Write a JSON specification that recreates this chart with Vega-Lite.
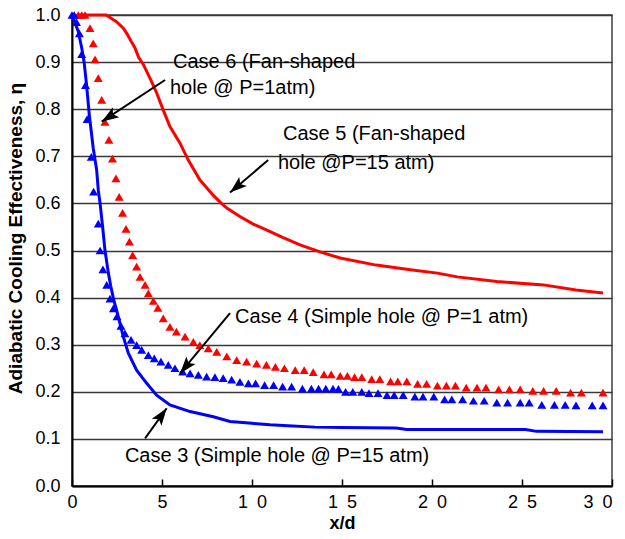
{
  "$schema": "https://vega.github.io/schema/vega-lite/v6.json",
  "width": 540,
  "height": 471,
  "autosize": {"type": "none"},
  "padding": {"left": 72, "top": 15, "right": 13, "bottom": 53},
  "background": "white",
  "config": {
    "font": "Liberation Sans",
    "view": {"stroke": "#404040", "strokeWidth": 1.5},
    "axis": {"labelFont": "Liberation Sans", "titleFont": "Liberation Sans", "labelColor": "black", "titleColor": "black"}
  },
  "datasets": {
    "case5": [
      {"x": 0.35, "y": 1.0}, {"x": 1.0, "y": 1.0}, {"x": 1.9, "y": 1.0}, {"x": 2.3, "y": 0.99},
      {"x": 2.5, "y": 0.985}, {"x": 2.85, "y": 0.972}, {"x": 3.04, "y": 0.961}, {"x": 3.3, "y": 0.943},
      {"x": 3.5, "y": 0.93}, {"x": 3.7, "y": 0.91}, {"x": 3.96, "y": 0.895}, {"x": 4.33, "y": 0.866},
      {"x": 4.7, "y": 0.835}, {"x": 5.07, "y": 0.798}, {"x": 5.44, "y": 0.763}, {"x": 6.0, "y": 0.728},
      {"x": 6.46, "y": 0.692}, {"x": 7.1, "y": 0.65}, {"x": 7.85, "y": 0.617}, {"x": 8.3, "y": 0.6},
      {"x": 8.6, "y": 0.59}, {"x": 9.33, "y": 0.572}, {"x": 10.07, "y": 0.556}, {"x": 10.8, "y": 0.544},
      {"x": 11.7, "y": 0.528}, {"x": 12.67, "y": 0.512}, {"x": 13.78, "y": 0.497}, {"x": 14.9, "y": 0.484},
      {"x": 16.9, "y": 0.469}, {"x": 18.8, "y": 0.459}, {"x": 20.3, "y": 0.452}, {"x": 21.4, "y": 0.444},
      {"x": 23.6, "y": 0.434}, {"x": 26.2, "y": 0.427}, {"x": 28.0, "y": 0.416}, {"x": 29.5, "y": 0.41}
    ],
    "case3": [
      {"x": 0.0, "y": 1.0}, {"x": 0.35, "y": 0.965}, {"x": 0.54, "y": 0.93}, {"x": 0.67, "y": 0.901},
      {"x": 0.81, "y": 0.851}, {"x": 0.96, "y": 0.788}, {"x": 1.18, "y": 0.717}, {"x": 1.37, "y": 0.671},
      {"x": 1.46, "y": 0.628}, {"x": 1.56, "y": 0.6}, {"x": 1.7, "y": 0.551}, {"x": 1.83, "y": 0.501},
      {"x": 2.02, "y": 0.452}, {"x": 2.15, "y": 0.425}, {"x": 2.3, "y": 0.398}, {"x": 2.5, "y": 0.37},
      {"x": 2.85, "y": 0.317}, {"x": 3.13, "y": 0.282}, {"x": 3.59, "y": 0.246}, {"x": 4.15, "y": 0.218},
      {"x": 4.7, "y": 0.193}, {"x": 5.44, "y": 0.172}, {"x": 6.56, "y": 0.158}, {"x": 7.85, "y": 0.147},
      {"x": 8.78, "y": 0.137}, {"x": 10.0, "y": 0.133}, {"x": 11.0, "y": 0.13}, {"x": 12.0, "y": 0.128},
      {"x": 13.5, "y": 0.125}, {"x": 15.0, "y": 0.124}, {"x": 18.0, "y": 0.123}, {"x": 18.6, "y": 0.12},
      {"x": 25.2, "y": 0.12}, {"x": 25.8, "y": 0.116}, {"x": 29.5, "y": 0.115}
    ],
    "case6": [
      {"x": 0.35, "y": 1.0}, {"x": 0.54, "y": 1.0}, {"x": 0.72, "y": 1.0}, {"x": 1.0, "y": 0.972},
      {"x": 1.18, "y": 0.94}, {"x": 1.28, "y": 0.906}, {"x": 1.46, "y": 0.866}, {"x": 1.65, "y": 0.82},
      {"x": 1.83, "y": 0.773}, {"x": 2.05, "y": 0.735}, {"x": 2.25, "y": 0.695}, {"x": 2.44, "y": 0.653},
      {"x": 2.62, "y": 0.614}, {"x": 2.81, "y": 0.58}, {"x": 3.0, "y": 0.546}, {"x": 3.19, "y": 0.519},
      {"x": 3.37, "y": 0.49}, {"x": 3.59, "y": 0.466}, {"x": 3.78, "y": 0.444}, {"x": 4.06, "y": 0.427},
      {"x": 4.24, "y": 0.409}, {"x": 4.52, "y": 0.393}, {"x": 4.77, "y": 0.378}, {"x": 5.07, "y": 0.356},
      {"x": 5.44, "y": 0.338}, {"x": 5.8, "y": 0.328}, {"x": 6.28, "y": 0.317}, {"x": 6.74, "y": 0.306},
      {"x": 7.1, "y": 0.299}, {"x": 7.57, "y": 0.292}, {"x": 8.04, "y": 0.285}, {"x": 8.6, "y": 0.275},
      {"x": 9.15, "y": 0.267}, {"x": 9.7, "y": 0.264}, {"x": 10.26, "y": 0.26}, {"x": 10.8, "y": 0.257},
      {"x": 11.3, "y": 0.253}, {"x": 11.8, "y": 0.25}, {"x": 12.4, "y": 0.246}, {"x": 12.9, "y": 0.246},
      {"x": 13.4, "y": 0.242}, {"x": 14.0, "y": 0.237}, {"x": 14.4, "y": 0.237}, {"x": 14.9, "y": 0.234},
      {"x": 15.3, "y": 0.234}, {"x": 15.7, "y": 0.231}, {"x": 16.1, "y": 0.231}, {"x": 16.65, "y": 0.227},
      {"x": 17.1, "y": 0.227}, {"x": 17.7, "y": 0.222}, {"x": 18.1, "y": 0.222}, {"x": 18.6, "y": 0.222},
      {"x": 19.2, "y": 0.217}, {"x": 19.7, "y": 0.217}, {"x": 20.3, "y": 0.213}, {"x": 20.8, "y": 0.213},
      {"x": 21.3, "y": 0.213}, {"x": 21.9, "y": 0.209}, {"x": 22.5, "y": 0.209}, {"x": 23.0, "y": 0.209},
      {"x": 23.7, "y": 0.205}, {"x": 24.3, "y": 0.205}, {"x": 24.9, "y": 0.205}, {"x": 25.6, "y": 0.202},
      {"x": 26.2, "y": 0.202}, {"x": 26.9, "y": 0.202}, {"x": 27.7, "y": 0.198}, {"x": 28.3, "y": 0.198},
      {"x": 29.5, "y": 0.198}
    ],
    "case4": [
      {"x": 0.0, "y": 1.0}, {"x": 0.12, "y": 1.0}, {"x": 0.25, "y": 0.985}, {"x": 0.41, "y": 0.961},
      {"x": 0.54, "y": 0.917}, {"x": 0.75, "y": 0.851}, {"x": 0.84, "y": 0.779}, {"x": 1.07, "y": 0.699},
      {"x": 1.2, "y": 0.625}, {"x": 1.46, "y": 0.557}, {"x": 1.56, "y": 0.5}, {"x": 1.72, "y": 0.46},
      {"x": 1.93, "y": 0.427}, {"x": 2.11, "y": 0.398}, {"x": 2.3, "y": 0.377}, {"x": 2.5, "y": 0.36},
      {"x": 2.72, "y": 0.34}, {"x": 2.94, "y": 0.324}, {"x": 3.28, "y": 0.31}, {"x": 3.59, "y": 0.299},
      {"x": 3.87, "y": 0.289}, {"x": 4.24, "y": 0.278}, {"x": 4.57, "y": 0.271}, {"x": 4.94, "y": 0.264},
      {"x": 5.35, "y": 0.257}, {"x": 5.72, "y": 0.25}, {"x": 6.15, "y": 0.243}, {"x": 6.56, "y": 0.239},
      {"x": 7.02, "y": 0.236}, {"x": 7.48, "y": 0.232}, {"x": 7.94, "y": 0.231}, {"x": 8.4, "y": 0.229},
      {"x": 8.87, "y": 0.226}, {"x": 9.33, "y": 0.221}, {"x": 9.8, "y": 0.218}, {"x": 10.2, "y": 0.218},
      {"x": 10.7, "y": 0.214}, {"x": 11.2, "y": 0.214}, {"x": 11.7, "y": 0.211}, {"x": 12.2, "y": 0.211},
      {"x": 12.8, "y": 0.207}, {"x": 13.3, "y": 0.207}, {"x": 13.7, "y": 0.207}, {"x": 14.1, "y": 0.207},
      {"x": 14.5, "y": 0.207}, {"x": 14.8, "y": 0.206}, {"x": 15.2, "y": 0.2}, {"x": 15.6, "y": 0.2},
      {"x": 16.1, "y": 0.2}, {"x": 16.5, "y": 0.197}, {"x": 17.0, "y": 0.197}, {"x": 17.5, "y": 0.193},
      {"x": 17.9, "y": 0.193}, {"x": 18.4, "y": 0.193}, {"x": 19.05, "y": 0.19}, {"x": 19.5, "y": 0.19},
      {"x": 20.1, "y": 0.19}, {"x": 20.7, "y": 0.184}, {"x": 21.1, "y": 0.184}, {"x": 21.7, "y": 0.184},
      {"x": 22.3, "y": 0.181}, {"x": 22.9, "y": 0.181}, {"x": 23.6, "y": 0.177}, {"x": 24.2, "y": 0.177},
      {"x": 24.9, "y": 0.177}, {"x": 25.4, "y": 0.177}, {"x": 26.1, "y": 0.172}, {"x": 26.8, "y": 0.172},
      {"x": 27.4, "y": 0.172}, {"x": 28.0, "y": 0.171}, {"x": 28.9, "y": 0.171}, {"x": 29.5, "y": 0.171}
    ],
    "arrows": [
      {"case": "Case 6", "x": 5.17, "y": 0.862, "tx": 1.65, "ty": 0.7735},
      {"case": "Case 5", "x": 10.9, "y": 0.692, "tx": 8.78, "ty": 0.623},
      {"case": "Case 4", "x": 8.78, "y": 0.367, "tx": 6.0, "ty": 0.239},
      {"case": "Case 3", "x": 4.06, "y": 0.101, "tx": 5.26, "ty": 0.165}
    ],
    "notes": [
      {"label": "Case 6 (Fan-shaped", "x": 5.61, "y": 0.887},
      {"label": "hole @ P=1atm)", "x": 5.44, "y": 0.832},
      {"label": "Case 5 (Fan-shaped", "x": 11.72, "y": 0.7346},
      {"label": "hole @P=15 atm)", "x": 11.44, "y": 0.673},
      {"label": "Case 4 (Simple hole @ P=1 atm)", "x": 9.06, "y": 0.346},
      {"label": "Case 3 (Simple hole @ P=15 atm)", "x": 2.94, "y": 0.052}
    ]
  },
  "layer": [
    {
      "data": {"name": "case5"},
      "mark": {"type": "line", "color": "#ff0000", "strokeWidth": 3},
      "encoding": {
        "x": {
          "field": "x", "type": "quantitative",
          "scale": {"domain": [0, 30], "nice": false},
          "axis": {
            "title": "x/d",
            "values": [0, 5, 10, 15, 20, 25, 30],
            "grid": false,
            "domainColor": "black", "domainWidth": 2,
            "tickColor": "black", "tickWidth": 1.5, "tickSize": -7,
            "labelPadding": 14, "labelFontSize": 18,
            "labelExpr": "length(datum.label) > 1 ? slice(datum.label, 0, 1) + '\u2002' + slice(datum.label, 1) : datum.label",
            "labelAlign": {"condition": {"test": "datum.value == 30", "value": "right"}, "value": "center"},
            "titleFontSize": 18, "titleFontWeight": "bold", "titlePadding": 3
          }
        },
        "y": {
          "field": "y", "type": "quantitative",
          "scale": {"domain": [0, 1], "nice": false},
          "axis": {
            "title": "Adiabatic Cooling Effectiveness, η",
            "values": [0, 0.1, 0.2, 0.3, 0.4, 0.5, 0.6, 0.7, 0.8, 0.9, 1.0],
            "format": ".1f",
            "grid": true, "gridColor": "#383838", "gridWidth": 1.3, "gridOpacity": 1,
            "ticks": false,
            "labelPadding": 12, "labelFontSize": 18,
            "domainColor": "black", "domainWidth": 2,
            "titleFontSize": 19, "titleFontWeight": "bold", "titlePadding": 9, "titleY": 223
          }
        }
      }
    },
    {
      "data": {"name": "case3"},
      "mark": {"type": "line", "color": "#0000ff", "strokeWidth": 3},
      "encoding": {
        "x": {"field": "x", "type": "quantitative"},
        "y": {"field": "y", "type": "quantitative"}
      }
    },
    {
      "data": {"name": "case6"},
      "mark": {"type": "point", "shape": "triangle-up", "filled": true, "color": "#ff0000", "opacity": 1, "size": 80},
      "encoding": {
        "x": {"field": "x", "type": "quantitative"},
        "y": {"field": "y", "type": "quantitative"}
      }
    },
    {
      "data": {"name": "case4"},
      "mark": {"type": "point", "shape": "triangle-up", "filled": true, "color": "#0000ff", "opacity": 1, "size": 80},
      "encoding": {
        "x": {"field": "x", "type": "quantitative"},
        "y": {"field": "y", "type": "quantitative"}
      }
    },
    {
      "data": {"name": "arrows"},
      "mark": {"type": "rule", "color": "black", "strokeWidth": 2},
      "encoding": {
        "x": {"field": "x", "type": "quantitative"},
        "y": {"field": "y", "type": "quantitative"},
        "x2": {"field": "tx"},
        "y2": {"field": "ty"}
      }
    },
    {
      "data": {"name": "arrows"},
      "transform": [
        {"calculate": "atan2((datum.tx - datum.x) * width / 30, (datum.ty - datum.y) * height) * 180 / PI", "as": "heading"}
      ],
      "mark": {"type": "point", "shape": "M0,0L0.55,1.6L0,1.25L-0.55,1.6Z", "filled": true, "color": "black", "opacity": 1, "size": 460, "strokeWidth": 0},
      "encoding": {
        "x": {"field": "tx", "type": "quantitative"},
        "y": {"field": "ty", "type": "quantitative"},
        "angle": {"field": "heading", "type": "quantitative", "scale": null}
      }
    },
    {
      "data": {"name": "notes"},
      "mark": {"type": "text", "align": "left", "baseline": "alphabetic", "fontSize": 20, "font": "Liberation Sans", "color": "black"},
      "encoding": {
        "x": {"field": "x", "type": "quantitative"},
        "y": {"field": "y", "type": "quantitative"},
        "text": {"field": "label"}
      }
    }
  ]
}
